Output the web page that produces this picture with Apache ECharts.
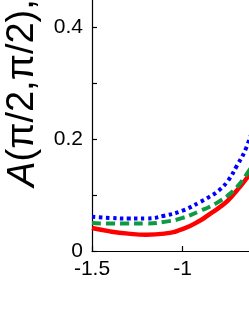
<!DOCTYPE html>
<html>
<head>
<meta charset="utf-8">
<script src="https://cdn.jsdelivr.net/npm/echarts@6/dist/echarts.min.js"></script>
<style>
html,body{margin:0;padding:0;background:#fff;}
#c{width:249px;height:323px;}
</style>
</head>
<body>
<div id="c"></div>
<script>
var xValues = [-1.5, -1.4, -1.3, -1.2, -1.1, -1.0, -0.9, -0.85, -0.8, -0.75, -0.7, -0.65, -0.6];
var redValues = [0.041, 0.035, 0.031, 0.029, 0.031, 0.039, 0.055, 0.066, 0.077, 0.090, 0.108, 0.128, 0.152];
var greenValues = [0.050, 0.049, 0.049, 0.049, 0.052, 0.059, 0.072, 0.079, 0.088, 0.099, 0.114, 0.135, 0.160];
var blueValues = [0.061, 0.059, 0.058, 0.058, 0.063, 0.072, 0.088, 0.097, 0.108, 0.125, 0.152, 0.183, 0.230];
var xTickValues = [-1.5, -1];
var xLabelValues = [-1.5, -1];
var yTickValues = [0, 0.1, 0.2, 0.3, 0.4];
var yLabelValues = [0, 0.2, 0.4];
var yAxisTitle = '{i|A}(π/2,π/2),';

function pairs(xs, ys) { return xs.map(function (x, i) { return [x, ys[i]]; }); }

var chart = echarts.init(document.getElementById('c'), null, {renderer: 'canvas'});
var font = 'Liberation Sans';
chart.setOption({
  animation: false,
  grid: {left: 92, top: 0, right: 0, bottom: 72, containLabel: false},
  xAxis: {
    type: 'value', min: -1.5, max: -0.633,
    axisLine: {show: true, lineStyle: {color: '#000', width: 1.2}},
    axisTick: {show: true, inside: true, length: 5, customValues: xTickValues, lineStyle: {color: '#000', width: 1.2}},
    axisLabel: {customValues: xLabelValues, color: '#000', fontSize: 21, fontFamily: font, margin: 8,
      formatter: function (v) { return String(v); }},
    splitLine: {show: false}
  },
  yAxis: {
    type: 'value', min: 0, max: 0.448,
    axisLine: {show: true, lineStyle: {color: '#000', width: 1.2}},
    axisTick: {show: true, inside: true, length: 5, customValues: yTickValues, lineStyle: {color: '#000', width: 1.2}},
    axisLabel: {customValues: yLabelValues, color: '#000', fontSize: 21, fontFamily: font, margin: 9,
      formatter: function (v) { return String(v); }},
    splitLine: {show: false}
  },
  graphic: [{
    type: 'text', x: 23, y: 93, rotation: Math.PI / 2,
    style: {
      text: yAxisTitle,
      fontSize: 38, fontFamily: font, fill: '#000',
      align: 'center', verticalAlign: 'middle',
      rich: {i: {fontStyle: 'italic', fontSize: 38, fontFamily: font}}
    }
  }],
  series: [
    {type: 'line', data: pairs(xValues, redValues), smooth: true, symbol: 'none',
      lineStyle: {color: '#ff0000', width: 4.5, type: 'solid'}},
    {type: 'line', data: pairs(xValues, greenValues), smooth: true, symbol: 'none',
      lineStyle: {color: '#0d9a43', width: 4, type: [9, 5]}},
    {type: 'line', data: pairs(xValues, blueValues), smooth: true, symbol: 'none',
      lineStyle: {color: '#0000ff', width: 4, type: [3.5, 3.5]}}
  ]
});
</script>
</body>
</html>
